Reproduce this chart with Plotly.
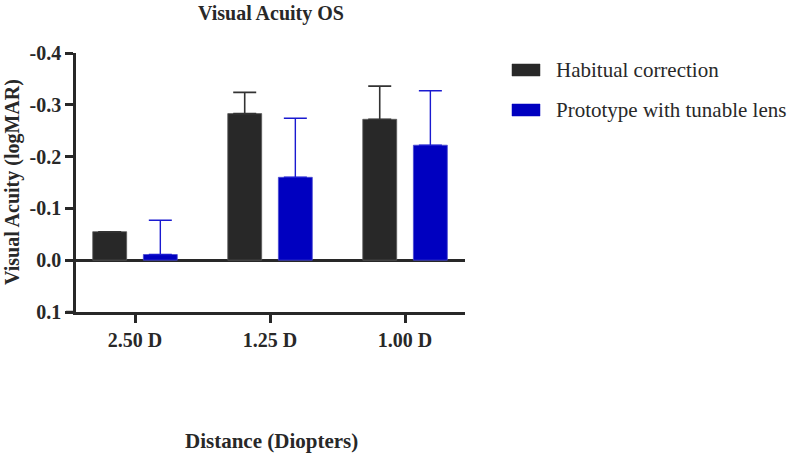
import plotly.graph_objects as go

categories = ["2.50 D", "1.25 D", "1.00 D"]
series_names = ["Habitual correction", "Prototype with tunable lens"]
habitual = [-0.055, -0.283, -0.272]
habitual_err = [0.0, 0.041, 0.064]
prototype = [-0.011, -0.160, -0.222]
prototype_err = [0.066, 0.114, 0.105]
y_ticks = [-0.4, -0.3, -0.2, -0.1, 0.0, 0.1]
y_ticktext = ["-0.4", "-0.3", "-0.2", "-0.1", "0.0", "0.1"]

DARK = "#282828"
BLUE = "#0000C0"
FONT = "'Liberation Serif', 'Times New Roman', Times, serif"

fig = go.Figure()
fig.add_trace(go.Bar(
    x=categories, y=habitual, name=series_names[0],
    marker=dict(color=DARK, line=dict(color="#5a5a5a", width=0.8)),
    error_y=dict(type="data", symmetric=False, array=[0]*3, arrayminus=habitual_err,
                 color="#333333", thickness=1.6, width=11.5),
    showlegend=False,
))
fig.add_trace(go.Bar(
    x=categories, y=prototype, name=series_names[1],
    marker=dict(color=BLUE, line=dict(color="#4a4ad0", width=0.8)),
    error_y=dict(type="data", symmetric=False, array=[0]*3, arrayminus=prototype_err,
                 color="#1a1ad0", thickness=1.4, width=11.5),
    showlegend=False,
))

L, R, T, B = 76, 465, 53, 312
W, H = 791, 457
pw = R - L
ph = B - T

def px(xp):  # page x -> paper
    return (xp - L) / pw

def py(yp):  # page y -> paper
    return (B - yp) / ph

tick_font = dict(size=20, family=FONT, color=DARK)

fig.update_layout(
    width=W, height=H,
    margin=dict(l=L, r=W - R, t=T, b=H - B),
    paper_bgcolor="white", plot_bgcolor="white",
    barmode="group", bargap=0.25, bargroupgap=0.33,
    font=dict(family=FONT, color=DARK),
    xaxis=dict(
        range=[-0.437, 2.444], showline=True, linecolor=DARK, linewidth=2.5,
        ticks="outside", ticklen=8, tickwidth=2.5, tickcolor=DARK,
        tickfont=tick_font, showgrid=False,
        tickprefix="<b>", ticksuffix="</b>",
    ),
    yaxis=dict(
        range=[0.1, -0.4], tickvals=y_ticks, ticktext=["<b>" + t + "</b>" for t in y_ticktext],
        showline=True, linecolor=DARK, linewidth=2.5,
        ticks="outside", ticklen=8, tickwidth=2.5, tickcolor=DARK,
        tickfont=tick_font, showgrid=False,
        zeroline=True, zerolinecolor=DARK, zerolinewidth=2.5,
    ),
)

# chart title
fig.add_annotation(text="<b>Visual Acuity OS</b>", xref="paper", yref="paper",
                   x=px(271), y=py(13), xanchor="center", yanchor="middle",
                   showarrow=False, font=dict(size=20, family=FONT, color=DARK))

# y-axis title
fig.add_annotation(text="<b>Visual Acuity (logMAR)</b>", xref="paper", yref="paper",
                   x=px(12), y=py(182), xanchor="center", yanchor="middle", textangle=-90,
                   showarrow=False, font=dict(size=20, family=FONT, color=DARK))

# extension of x-axis line to the left of the y-axis
fig.add_shape(type="line", xref="paper", yref="paper", x0=px(66), x1=0, y0=0, y1=0,
              line=dict(color=DARK, width=2.5))

# x-axis title
fig.add_annotation(text="<b>Distance (Diopters)</b>", xref="paper", yref="paper",
                   x=px(271), y=py(441), xanchor="center", yanchor="middle",
                   showarrow=False, font=dict(size=21, family=FONT, color=DARK))

# custom legend
legend_rows = [(series_names[0], DARK, 70), (series_names[1], BLUE, 110)]
for name, col, yc in legend_rows:
    fig.add_shape(type="rect", xref="paper", yref="paper",
                  x0=px(512), x1=px(540),
                  y0=py(yc + 6), y1=py(yc - 6),
                  fillcolor=col, line=dict(color=col, width=0.5))
    fig.add_annotation(text=name, xref="paper", yref="paper",
                       x=px(554), y=py(yc), xanchor="left", yanchor="middle",
                       showarrow=False, font=dict(size=21, family=FONT, color=DARK))

fig.write_html("out.html", config={"displayModeBar": False},
               post_script="document.body.style.margin='0px';document.body.style.overflow='hidden';")
